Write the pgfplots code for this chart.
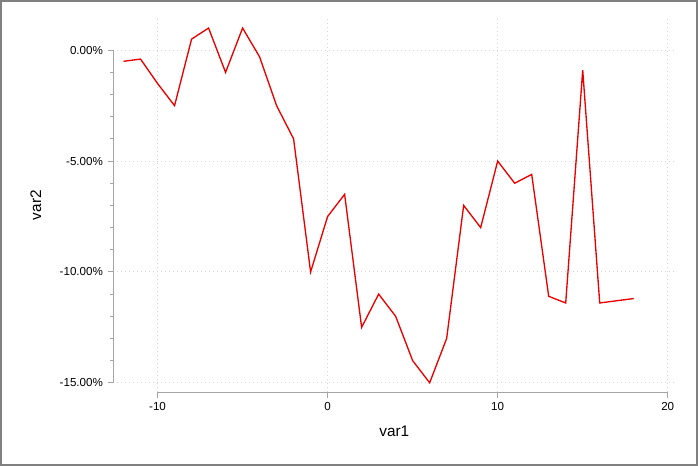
\documentclass[border=0pt]{standalone}
\usepackage{pgfplots}
\pgfplotsset{compat=1.18}
\usepackage{fontspec}
\setmainfont{Liberation Sans}

\definecolor{linered}{RGB}{235,0,0}
\definecolor{axgray}{RGB}{165,165,165}
\definecolor{gridgray}{RGB}{215,215,215}
\definecolor{framegray}{RGB}{128,128,128}

\begin{document}
\begin{tikzpicture}
% picture frame, 698 x 465 px at 0.75pt per px
\draw[framegray, line width=1.2pt] (0.45pt,0.45pt) rectangle (522.6pt,348.3pt);
\begin{axis}[
  at={(84.75pt,54.75pt)}, anchor=south west,
  scale only axis, width=421.5pt, height=280.5pt,
  xmin=-12.606, xmax=20.45,
  ymin=-15.43, ymax=1.444,
  axis line style={draw=none},
  tick pos=left, tick align=outside,
  xtick={-10,0,10,20}, xticklabels={-10,0,10,20},
  ytick={-15,-10,-5,0}, yticklabels={-15.00\%,-10.00\%,-5.00\%,0.00\%},
  minor ytick={-14,-13,-12,-11,-9,-8,-7,-6,-4,-3,-2,-1},
  major tick length=4.2pt, minor tick length=2.4pt,
  every tick/.style={axgray, line width=0.75pt},
  grid=major,
  major grid style={gridgray, line width=0.75pt, dash pattern=on 0.75pt off 2.25pt},
  ticklabel style={font=\fontsize{8.7}{10}\selectfont, black},
  xlabel={var1}, ylabel={var2},
  label style={font=\fontsize{11.5}{13}\selectfont},
  xlabel style={at={(axis description cs:0.5,-0.1176)}, anchor=base},
  ylabel style={at={(axis description cs:-0.1281,0.5)}, anchor=base, rotate=0},
]
\addplot[linered, line width=1pt] coordinates {
  (-12,-0.5) (-11,-0.4) (-10,-1.5) (-9,-2.5) (-8,0.5) (-7,1.0) (-6,-1.0)
  (-5,1.0) (-4,-0.3) (-3,-2.5) (-2,-4.0) (-1,-10.0) (0,-7.5) (1,-6.5)
  (2,-12.5) (3,-11.0) (4,-12.0) (5,-14.0) (6,-15.0) (7,-13.0) (8,-7.0)
  (9,-8.0) (10,-5.0) (11,-6.0) (12,-5.6) (13,-11.1) (14,-11.4) (15,-0.9)
  (16,-11.4) (17,-11.3) (18,-11.2)
};
\draw[axgray, line width=0.75pt] (axis cs:-10,-15.43) -- (axis cs:20,-15.43);
\draw[axgray, line width=0.75pt] (axis cs:-12.606,-15) -- (axis cs:-12.606,0);
\end{axis}
\end{tikzpicture}
\end{document}
